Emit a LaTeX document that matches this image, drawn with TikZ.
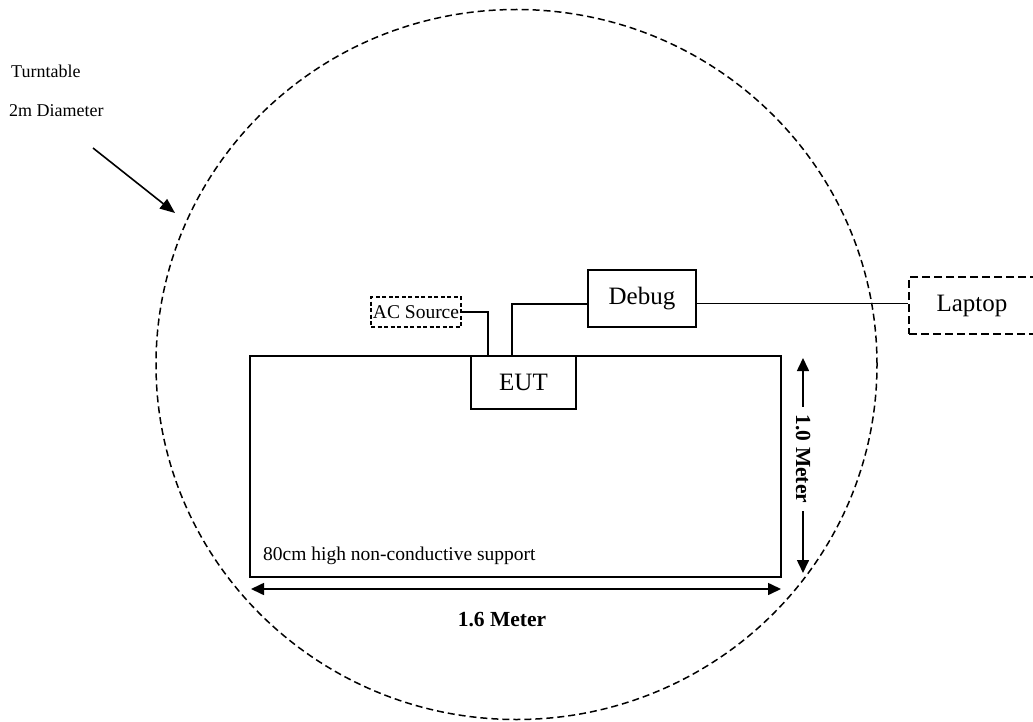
\documentclass[tikz,border=0pt]{standalone}
\usepackage{fontspec}
\setmainfont{Liberation Serif}
\usetikzlibrary{arrows.meta,calc,shapes.geometric}
\begin{document}
\begin{tikzpicture}[x=1pt,y=-1pt,
  solidbox/.style={draw, line width=1.6pt, inner sep=0pt, font=\fontsize{25}{30}\selectfont},
  dashbox/.style={draw, line width=1.6pt, dash pattern=on 8pt off 4pt, inner sep=0pt, font=\fontsize{25}{30}\selectfont},
  smalldash/.style={draw, line width=1.2pt, dash pattern=on 4pt off 2.5pt, inner sep=0pt, font=\fontsize{19.5}{22}\selectfont},
  wire/.style={line width=1.6pt},
  tip/.style={-{Triangle[length=13pt,width=12pt]}},
  dimarrow/.style={line width=1.6pt, {Triangle[length=13pt,width=12pt]}-{Triangle[length=13pt,width=12pt]}},
  note/.style={anchor=base west, inner sep=0pt, font=\fontsize{18}{22}\selectfont},
  dimlabel/.style={font=\bfseries\fontsize{21.5}{24}\selectfont}]
\useasboundingbox (0,0) rectangle (1033,722);

% turntable
\node[ellipse, draw, line width=1.5pt, dash pattern=on 7pt off 4pt, inner sep=0pt,
      minimum width=721, minimum height=710] (tt) at (516.5,364.5) {};

\node[note] (t1) at (11,78) {Turntable};
\node[note] (t2) at (9,117) {2m Diameter};
\coordinate (ta) at (93,148);
\coordinate (tb) at (175,213);
\draw[wire, -{Triangle[length=15pt,width=12pt]}] (ta) -- (tb);

% support table
\node[draw, line width=1.6pt, minimum width=531, minimum height=221, inner sep=0pt] (table) at (515.5,466.5) {};
\node[anchor=base west, inner sep=0pt, font=\fontsize{19.5}{23}\selectfont] (sup) at (263,560) {80cm high non-conductive support};

% boxes
\node[solidbox, fill=white, minimum width=105, minimum height=53] (eut) at (523.5,382.5) {EUT};
\node[solidbox, minimum width=108, minimum height=57] (dbg) at (642,298.5) {Debug};
\node[smalldash, minimum width=90, minimum height=30] (acs) at (416,312) {AC Source};
\node[dashbox, minimum width=126, minimum height=57] (lap) at (972,305.5) {Laptop};

% wires
\draw[wire] (acs.east) -| ([xshift=-35.5pt]eut.north);
\draw[wire] ([xshift=-11.5pt]eut.north) |- ([yshift=-5.5pt]dbg.west);
\draw[wire] ([yshift=-5pt]dbg.east) -- ([yshift=-5pt]dbg.east -| lap.west);

% vertical dimension
\node[dimlabel, rotate=-90, inner xsep=8pt, inner ysep=0pt] (vl) at (803,459) {1.0 Meter};
\coordinate (vt) at (803,358);
\coordinate (vb) at (803,573);
\draw[wire, tip] (vl.west) -- (vt);
\draw[wire, tip] (vl.east) -- (vb);

% horizontal dimension
\coordinate (hl) at (251,589);
\coordinate (hr) at (781,589);
\draw[dimarrow] (hl) -- (hr);
\node[dimlabel] (hlab) at (502,620) {1.6 Meter};
\end{tikzpicture}
\end{document}
